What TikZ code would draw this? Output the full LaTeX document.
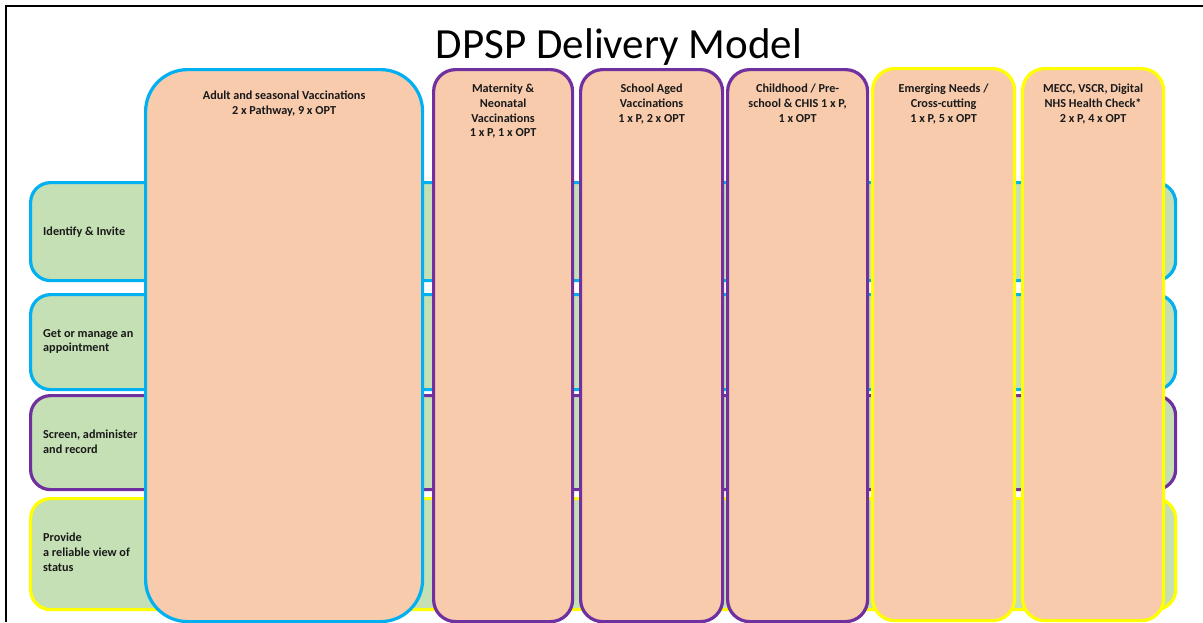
\documentclass[tikz,border=0pt]{standalone}
\usepackage{fontspec}
\setmainfont{Carlito}
\definecolor{cblue}{HTML}{00B0F0}
\definecolor{cpurple}{HTML}{7030A0}
\definecolor{cyellow}{HTML}{FFFF00}
\definecolor{cgreen}{HTML}{C5E0B4}
\definecolor{cpeach}{HTML}{F8CBAD}
\begin{document}
\begin{tikzpicture}[x=1pt,y=-1pt,
  rowbox/.style={draw, fill=cgreen, line width=3.2pt, rounded corners=20pt, anchor=north west, inner sep=0pt},
  colbox/.style={draw, fill=cpeach, line width=3.2pt, rounded corners=22pt, anchor=north west, inner sep=0pt, minimum height=552pt},
  coltext/.style={anchor=north, inner sep=0pt, align=center, text=black!90, font=\bfseries\fontsize{12.2}{14.7}\selectfont},
  rowtext/.style={anchor=north west, inner sep=0pt, align=left, text=black!90, font=\bfseries\fontsize{12.2}{14.7}\selectfont}]
\useasboundingbox (0,0) rectangle (1203,622);
\fill[white] (0,0) rectangle (1203,622);
\draw[line width=2pt] (6,622) -- (6,6) -- (1203,6);
\node[anchor=base, inner sep=0pt, font=\fontsize{43}{50}\selectfont] (title) at (619,58) {DPSP Delivery Model};
% rows
\node[rowbox, draw=cblue, minimum width=1145pt, minimum height=98pt] (r1) at (29,181) {};
\node[rowbox, draw=cblue, minimum width=1145pt, minimum height=95pt] (r2) at (29,293) {};
\node[rowbox, draw=cpurple, minimum width=1145pt, minimum height=94pt] (r3) at (29,394) {};
\node[rowbox, draw=cyellow, minimum width=1145pt, minimum height=111pt] (r4) at (29,497) {};
\node[rowtext] (t1) at (43,227) {Identify \& Invite};
\node[rowtext] (t2) at (43,329) {Get or manage an\\appointment};
\node[rowtext] (t3) at (43,430) {Screen, administer\\and record};
\node[rowtext] (t4) at (43,533) {Provide\\a reliable view of\\status};
% columns
\node[colbox, draw=cblue, rounded corners=42pt, minimum width=277pt] (c1) at (144,68) {};
\node[colbox, draw=cpurple, minimum width=139pt] (c2) at (432,68) {};
\node[colbox, draw=cpurple, minimum width=142pt] (c3) at (579,68) {};
\node[colbox, draw=cpurple, minimum width=140pt] (c4) at (726,68) {};
\node[colbox, draw=cyellow, minimum width=142pt] (c5) at (871,67) {};
\node[colbox, draw=cyellow, minimum width=141pt] (c6) at (1021,67) {};
\node[coltext] (ct1) at ([yshift=-23pt]c1.north) {Adult and seasonal Vaccinations\\2 x Pathway, 9 x OPT};
\node[coltext] (ct2) at ([yshift=-16pt]c2.north) {Maternity \&\\Neonatal\\Vaccinations\\1 x P, 1 x OPT};
\node[coltext] (ct3) at ([yshift=-16pt]c3.north) {School Aged\\Vaccinations\\1 x P, 2 x OPT};
\node[coltext] (ct4) at ([yshift=-16pt]c4.north) {Childhood / Pre-\\school \& CHIS 1 x P,\\1 x OPT};
\node[coltext] (ct5) at ([yshift=-17pt]c5.north) {Emerging Needs /\\Cross-cutting\\1 x P, 5 x OPT};
\node[coltext] (ct6) at ([yshift=-17pt]c6.north) {MECC, VSCR, Digital\\NHS Health Check*\\2 x P, 4 x OPT};
\end{tikzpicture}
\end{document}
